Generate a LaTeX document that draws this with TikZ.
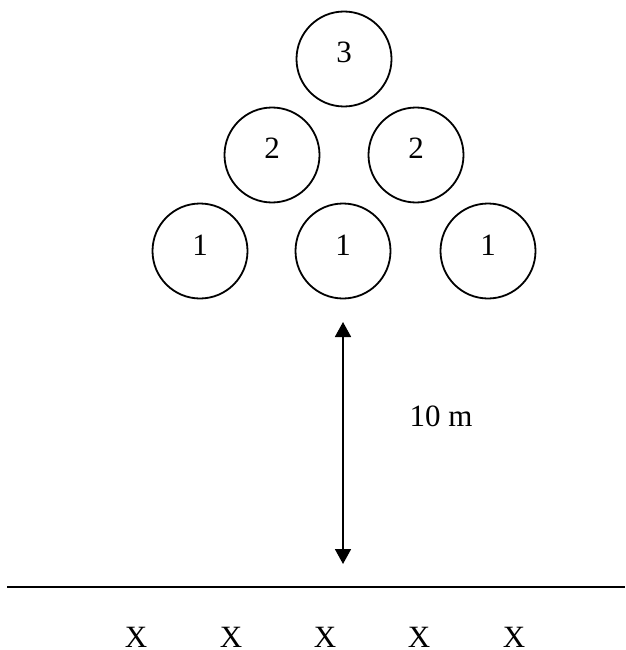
\documentclass[tikz,border=0pt]{standalone}
\usepackage{fontspec}
\setmainfont{Liberation Serif}
\usetikzlibrary{arrows.meta}
\begin{document}
\begin{tikzpicture}[x=1pt,y=-1pt,
  ball/.style={draw,circle,line width=1.8pt,minimum size=95pt,inner sep=0pt},
  lbl/.style={font=\fontsize{31}{31}\selectfont,inner sep=0pt},
  dim/.style={line width=1.8pt,{Triangle[width=16pt,length=15pt]}-{Triangle[width=16pt,length=15pt]}}]
\useasboundingbox (0,0) rectangle (625,650);
\node[ball] (c3) at (344,59) {};
\node[ball] (c2a) at (272,155) {};
\node[ball] (c2b) at (416,155) {};
\node[ball] (c1a) at (200,251) {};
\node[ball] (c1b) at (343,251) {};
\node[ball] (c1c) at (488,251) {};
\node[lbl] (t3) at (344,52) {3};
\node[lbl] (t2a) at (272,148) {2};
\node[lbl] (t2b) at (416,148) {2};
\node[lbl] (t1a) at (200,245) {1};
\node[lbl] (t1b) at (343,245) {1};
\node[lbl] (t1c) at (488,245) {1};
\coordinate (atop) at (343,322);
\coordinate (abot) at (343,564);
\draw[dim] (atop) -- (abot);
\node[lbl] (dist) at (441,416) {10 m};
\coordinate (lineL) at (7,587);
\coordinate (lineR) at (625,587);
\draw[line width=2.2pt] (lineL) -- (lineR);
\node[lbl] (x1) at (136,637) {X};
\node[lbl] (x2) at (231,637) {X};
\node[lbl] (x3) at (325,637) {X};
\node[lbl] (x4) at (419,637) {X};
\node[lbl] (x5) at (514,637) {X};
\end{tikzpicture}
\end{document}
